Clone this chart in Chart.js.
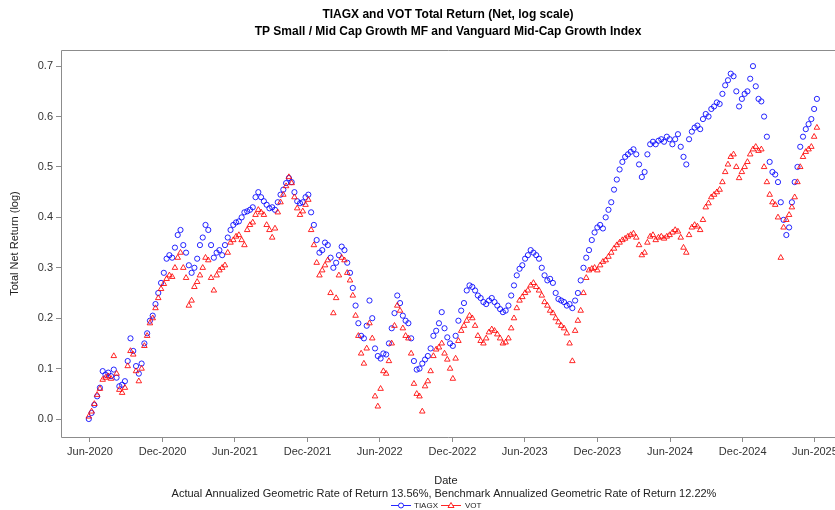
<!DOCTYPE html>
<html>
<head>
<meta charset="utf-8">
<script src="https://cdn.jsdelivr.net/npm/chart.js@4.4.1/dist/chart.umd.min.js"></script>
<style>
  html, body { margin: 0; padding: 0; background: #fff; }
</style>
</head>
<body>
<canvas id="chart" width="835" height="510"></canvas>
<script>
// weekly observations starting on this date
const startDate = '2020-05-29';

// TP Small / Mid Cap Growth MF, cumulative log return
const tiagx = [
  0.000, 0.012, 0.028, 0.045, 0.062, 0.095, 0.088, 0.092, 0.085, 0.098,
  0.082, 0.065, 0.068, 0.075, 0.115, 0.160, 0.135, 0.105, 0.090, 0.110,
  0.150, 0.170, 0.195, 0.205, 0.228, 0.250, 0.270, 0.290, 0.318, 0.325,
  0.320, 0.340, 0.365, 0.375, 0.345, 0.330, 0.305, 0.290, 0.300, 0.318,
  0.345, 0.360, 0.385, 0.375, 0.345, 0.320, 0.330, 0.335, 0.325, 0.345,
  0.360, 0.375, 0.385, 0.390, 0.392, 0.400, 0.410, 0.412, 0.415, 0.420,
  0.440, 0.450, 0.440, 0.432, 0.425, 0.418, 0.420, 0.415, 0.430, 0.445,
  0.455, 0.468, 0.478, 0.470, 0.450, 0.432, 0.428, 0.430, 0.440, 0.445,
  0.410, 0.385, 0.355, 0.330, 0.335, 0.350, 0.345, 0.320, 0.300, 0.310,
  0.325, 0.342, 0.335, 0.310, 0.290, 0.260, 0.225, 0.190, 0.165, 0.160,
  0.185, 0.235, 0.200, 0.140, 0.125, 0.120, 0.130, 0.128, 0.150, 0.180,
  0.210, 0.245, 0.230, 0.205, 0.195, 0.190, 0.160, 0.115, 0.098, 0.100,
  0.110, 0.118, 0.125, 0.140, 0.165, 0.175, 0.190, 0.212, 0.180, 0.162,
  0.150, 0.145, 0.165, 0.195, 0.215, 0.230, 0.255, 0.265, 0.262, 0.255,
  0.245, 0.240, 0.232, 0.228, 0.235, 0.240, 0.232, 0.225, 0.218, 0.212,
  0.215, 0.225, 0.245, 0.265, 0.285, 0.298, 0.305, 0.318, 0.325, 0.335,
  0.330, 0.325, 0.318, 0.300, 0.285, 0.275, 0.278, 0.270, 0.250, 0.238,
  0.235, 0.232, 0.225, 0.228, 0.220, 0.235, 0.250, 0.275, 0.300, 0.320,
  0.335, 0.355, 0.370, 0.380, 0.385, 0.378, 0.400, 0.415, 0.430, 0.455,
  0.475, 0.495, 0.510, 0.520, 0.525, 0.530, 0.535, 0.525, 0.505, 0.480,
  0.490, 0.525, 0.545, 0.550, 0.545, 0.552, 0.555, 0.550, 0.560, 0.555,
  0.545, 0.555, 0.565, 0.540, 0.520, 0.505, 0.555, 0.570, 0.578, 0.582,
  0.575, 0.595, 0.605, 0.600, 0.615, 0.620, 0.628, 0.625, 0.645, 0.662,
  0.672, 0.685, 0.680, 0.650, 0.620, 0.635, 0.645, 0.650, 0.675, 0.700,
  0.660, 0.635, 0.630, 0.600, 0.560, 0.510, 0.490, 0.485, 0.470, 0.430,
  0.395, 0.365, 0.380, 0.430, 0.470, 0.500, 0.540, 0.560, 0.575, 0.585,
  0.595, 0.615, 0.635
];

// Vanguard Mid-Cap Growth Index (benchmark)
const vot = [
  0.005, 0.015, 0.030, 0.048, 0.060, 0.078, 0.082, 0.085, 0.080, 0.125,
  0.090, 0.058, 0.052, 0.062, 0.105, 0.135, 0.128, 0.095, 0.075, 0.100,
  0.145, 0.165, 0.190, 0.200, 0.220, 0.240, 0.258, 0.268, 0.278, 0.285,
  0.282, 0.300, 0.320, 0.330, 0.300, 0.280, 0.225, 0.235, 0.262, 0.272,
  0.285, 0.300, 0.320, 0.315, 0.280, 0.255, 0.285, 0.295, 0.300, 0.305,
  0.330, 0.350, 0.355, 0.362, 0.365, 0.355, 0.345, 0.375, 0.385, 0.390,
  0.405, 0.415, 0.410, 0.405, 0.385, 0.375, 0.360, 0.378, 0.410, 0.430,
  0.445, 0.462, 0.480, 0.468, 0.440, 0.418, 0.405, 0.412, 0.425, 0.435,
  0.375, 0.345, 0.310, 0.285, 0.295, 0.305, 0.315, 0.250, 0.210, 0.240,
  0.285, 0.320, 0.315, 0.290, 0.275, 0.245, 0.205, 0.165, 0.130, 0.110,
  0.140, 0.190, 0.160, 0.045, 0.025, 0.060, 0.095, 0.090, 0.115, 0.150,
  0.185, 0.225, 0.215, 0.180, 0.165, 0.160, 0.130, 0.070, 0.050, 0.045,
  0.015, 0.065, 0.075, 0.095, 0.125, 0.138, 0.142, 0.150, 0.130, 0.118,
  0.100, 0.080, 0.120, 0.155, 0.175, 0.185, 0.195, 0.205, 0.200, 0.185,
  0.165, 0.155, 0.150, 0.160, 0.172, 0.178, 0.175, 0.168, 0.160, 0.150,
  0.152, 0.160, 0.180, 0.200, 0.220, 0.235, 0.242, 0.250, 0.255, 0.265,
  0.270, 0.262, 0.255, 0.245, 0.232, 0.225, 0.215, 0.210, 0.200, 0.192,
  0.185, 0.180, 0.170, 0.150, 0.115, 0.175, 0.195, 0.215, 0.250, 0.280,
  0.295, 0.298, 0.300, 0.295, 0.305, 0.312, 0.315, 0.322, 0.330, 0.338,
  0.345, 0.350, 0.355, 0.358, 0.362, 0.365, 0.368, 0.360, 0.345, 0.325,
  0.330, 0.350, 0.362, 0.365, 0.355, 0.360, 0.362, 0.358, 0.362, 0.365,
  0.370, 0.375, 0.372, 0.360, 0.340, 0.330, 0.365, 0.380, 0.385, 0.382,
  0.375, 0.395, 0.420, 0.428, 0.440, 0.445, 0.450, 0.455, 0.470, 0.490,
  0.505, 0.520, 0.525, 0.500, 0.478, 0.490, 0.500, 0.510, 0.525, 0.535,
  0.540, 0.532, 0.535, 0.500, 0.470, 0.445, 0.430, 0.425, 0.400, 0.320,
  0.380, 0.395, 0.405, 0.420, 0.440, 0.470, 0.500, 0.520, 0.530, 0.535,
  0.540, 0.560, 0.578
];

const tickDates = ['2020-06-01', '2020-12-01', '2021-06-01', '2021-12-01', '2022-06-01', '2022-12-01',
                   '2023-06-01', '2023-12-01', '2024-06-01', '2024-12-01', '2025-06-01'];
const tickLabels = ['Jun-2020', 'Dec-2020', 'Jun-2021', 'Dec-2021', 'Jun-2022', 'Dec-2022',
                    'Jun-2023', 'Dec-2023', 'Jun-2024', 'Dec-2024', 'Jun-2025'];
const yTicks = [0.0, 0.1, 0.2, 0.3, 0.4, 0.5, 0.6, 0.7];

const titleLines = ['TIAGX and VOT Total Return (Net, log scale)',
                    'TP Small / Mid Cap Growth MF and Vanguard Mid-Cap Growth Index'];
const subtitle = 'Actual Annualized Geometric Rate of Return 13.56%, Benchmark Annualized Geometric Rate of Return 12.22%';

const FONT = '"Liberation Sans", Arial, sans-serif';
const BLUE = 'rgba(0, 0, 255, 0.85)';
const RED = 'rgba(255, 0, 0, 0.85)';
const FRAME = '#8c8c8c';

// x axis is days since 1 Jun 2020
const origin = Date.UTC(2020, 5, 1);
function dayNum(s) {
  const [y, m, d] = s.split('-').map(Number);
  return (Date.UTC(y, m - 1, d) - origin) / 86400000;
}
const start = dayNum(startDate);
const toPoints = vals => vals.map((v, i) => ({ x: start + 7 * i, y: v }));

// plot box open on the right, like the cropped original
const frameAndText = {
  id: 'frameAndText',
  afterDraw(chart) {
    const { ctx, chartArea: a, width } = chart;
    const l = Math.round(a.left) + 0.5, t = Math.round(a.top) + 0.5, b = Math.round(a.bottom) + 0.5;
    ctx.save();
    ctx.strokeStyle = FRAME;
    ctx.lineWidth = 1;
    ctx.beginPath();
    ctx.moveTo(width, t); ctx.lineTo(l, t); ctx.lineTo(l, b); ctx.lineTo(width, b);
    ctx.stroke();

    ctx.textAlign = 'center';
    ctx.textBaseline = 'middle';
    ctx.fillStyle = '#000';
    ctx.font = 'bold 12px ' + FONT;
    ctx.fillText(titleLines[0], 448, 15);
    ctx.fillText(titleLines[1], 448, 32);

    ctx.fillStyle = '#222';
    ctx.font = '11px ' + FONT;
    ctx.fillText(subtitle, 444, 494);

    // legend: line + marker, then name
    ctx.font = '8px ' + FONT;
    ctx.textAlign = 'left';
    ctx.lineWidth = 1;
    ctx.strokeStyle = BLUE;
    ctx.beginPath(); ctx.moveTo(391, 505.5); ctx.lineTo(411, 505.5); ctx.stroke();
    ctx.beginPath(); ctx.arc(401, 505.5, 2.5, 0, Math.PI * 2); ctx.fillStyle = '#fff'; ctx.fill(); ctx.stroke();
    ctx.fillStyle = '#222';
    ctx.fillText('TIAGX', 414, 505.5);
    ctx.strokeStyle = RED;
    ctx.beginPath(); ctx.moveTo(441, 505.5); ctx.lineTo(461, 505.5); ctx.stroke();
    ctx.beginPath(); ctx.moveTo(451, 502.5); ctx.lineTo(454, 507.5); ctx.lineTo(448, 507.5); ctx.closePath();
    ctx.fillStyle = '#fff'; ctx.fill(); ctx.stroke();
    ctx.fillStyle = '#222';
    ctx.fillText('VOT', 465, 505.5);
    ctx.restore();
  }
};

new Chart(document.getElementById('chart'), {
  type: 'scatter',
  data: {
    datasets: [{
      label: 'TIAGX',
      data: toPoints(tiagx),
      pointStyle: 'circle',
      pointRadius: 2.6,
      pointHoverRadius: 2.6,
      pointBorderWidth: 1,
      borderColor: BLUE,
      backgroundColor: 'rgba(0,0,0,0)',
      order: 2
    }, {
      label: 'VOT',
      data: toPoints(vot),
      pointStyle: 'triangle',
      pointRadius: 3.2,
      pointHoverRadius: 3.2,
      pointBorderWidth: 1,
      borderColor: RED,
      backgroundColor: 'rgba(0,0,0,0)',
      order: 1
    }]
  },
  options: {
    responsive: false,
    animation: false,
    devicePixelRatio: 1,
    events: [],
    layout: { padding: { top: 50, right: 0, bottom: 0, left: 0 } },
    plugins: {
      legend: { display: false },
      title: { display: false },
      tooltip: { enabled: false }
    },
    scales: {
      x: {
        type: 'linear',
        min: -73,
        max: 1866,
        afterFit(s) { s.height = 73; s.paddingLeft = 0; s.paddingRight = 0; },
        afterBuildTicks(s) { s.ticks = tickDates.map(d => ({ value: dayNum(d) })); },
        ticks: {
          autoSkip: false,
          maxRotation: 0,
          padding: 3,
          color: '#333',
          font: { family: FONT, size: 11 },
          callback: (v, i) => tickLabels[i]
        },
        grid: { drawOnChartArea: false, tickLength: 5, color: FRAME },
        border: { display: false },
        title: {
          display: true,
          text: 'Date',
          color: '#222',
          font: { family: FONT, size: 11 },
          padding: { top: 0, bottom: 22 }
        }
      },
      y: {
        type: 'linear',
        min: -0.0357,
        max: 0.732,
        afterFit(s) { s.width = 61; s.paddingTop = 0; s.paddingBottom = 0; },
        afterBuildTicks(s) { s.ticks = yTicks.map(v => ({ value: v })); },
        ticks: {
          padding: 3,
          color: '#333',
          font: { family: FONT, size: 11 },
          callback: v => v.toFixed(1)
        },
        grid: { drawOnChartArea: false, tickLength: 5, color: FRAME },
        border: { display: false },
        title: {
          display: true,
          text: 'Total Net Return (log)',
          color: '#222',
          font: { family: FONT, size: 11 },
          padding: { top: 8, bottom: 0 }
        }
      }
    }
  },
  plugins: [frameAndText]
});
</script>
</body>
</html>
